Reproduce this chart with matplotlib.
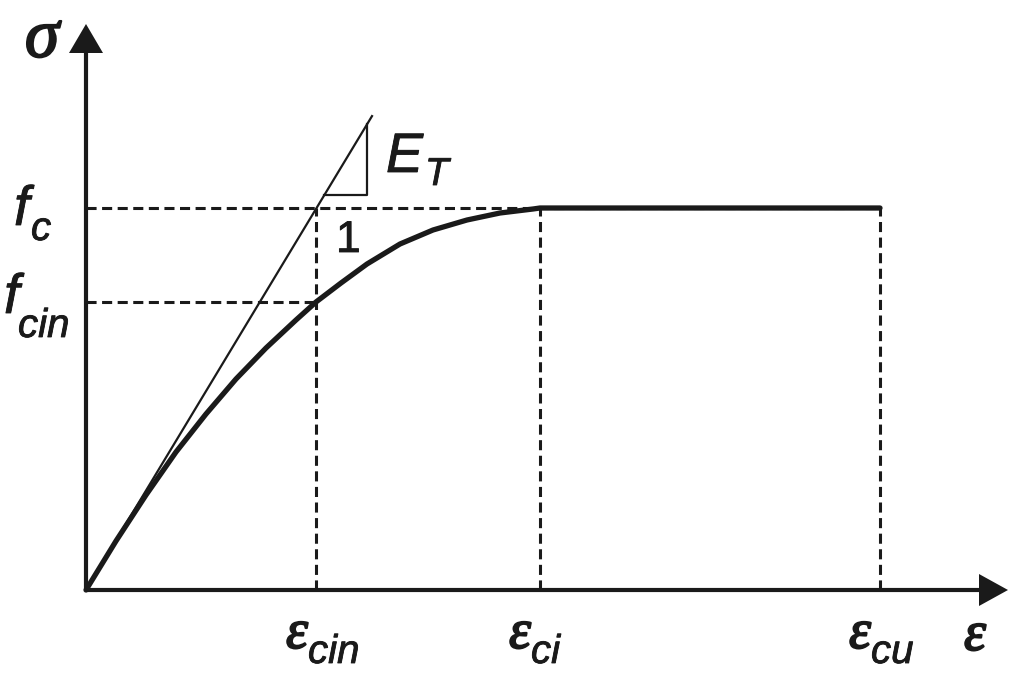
import numpy as np
import matplotlib.pyplot as plt
import matplotlib.patheffects as pe

# stress-strain curve (units are arbitrary, origin at 0)
eps = [0, 30, 60, 90, 120, 150, 180, 210, 230, 255, 281, 314, 347, 381, 414, 447, 454, 794]
sig = [0, 49, 95, 138, 176, 211, 242, 270, 288, 307, 326, 346, 360, 370, 377, 381, 382, 382]

eps_cin = 230
eps_ci = 454
eps_cu = 794
f_c = 382
f_cin = 288

# tangent (initial modulus E_T)
E_T = 1.657
tan_end = 286

ink = "#1a1a1a"
sans = "Liberation Sans"
serif = "Liberation Serif"
thin = [pe.withStroke(linewidth=0.6, foreground=ink)]
mid = [pe.withStroke(linewidth=1.4, foreground=ink)]

fig = plt.figure(figsize=(10.1, 6.79), dpi=100)
ax = fig.add_axes([0, 0, 1, 1])
ax.set_xlim(-86, 924)
ax.set_ylim(-89, 590)
ax.axis("off")

# axes with arrow heads
ax.plot([0, 0], [0, 538], color=ink, lw=3, solid_capstyle="butt")
ax.plot([0, 894], [0, 0], color=ink, lw=3, solid_capstyle="butt")
ax.fill([-17, 17, 0], [537, 537, 566], color=ink, lw=0)
ax.fill([893, 893, 922], [-16, 16, 0], color=ink, lw=0)

# dashed guide lines
dash = dict(color=ink, lw=2.2, linestyle=(0, (3.3, 1.8)))
ax.plot([0, eps_cu], [f_c, f_c], **dash)
ax.plot([0, eps_cin], [f_cin, f_cin], **dash)
ax.plot([eps_cin, eps_cin], [0, f_c], **dash)
ax.plot([eps_ci, eps_ci], [0, f_c], **dash)
ax.plot([eps_cu, eps_cu], [0, f_c], **dash)

# tangent line and slope triangle
ax.plot([0, tan_end], [0, E_T * tan_end], color=ink, lw=1.6)
tx0 = 395 / E_T
tx1 = 281
ax.plot([tx0, tx1, tx1], [395, 395, E_T * tx1], color=ink, lw=1.6)

# curve
ax.plot(eps, sig, color=ink, lw=3.8, solid_joinstyle="round", solid_capstyle="round")

# labels
def greek(x, y, s, size=40):
    ax.text(x, y, s, fontsize=size, family=serif, style="italic", color=ink,
            path_effects=mid)

def latin(x, y, s, size=40, italic=True):
    ax.text(x, y, s, fontsize=size, family=sans, style="italic" if italic else "normal",
            color=ink, path_effects=thin)

ax.text(-44, 550, "σ", fontsize=50, family=serif, style="italic", color=ink,
        ha="center", va="center", path_effects=mid)
latin(300, 418, "E", 40)
latin(339, 405, "T", 28)
latin(250, 338, "1", 32, italic=False)

latin(-72, 365, "f", 40)
latin(-55, 350, "c", 29)
latin(-82, 277, "f", 40)
latin(-68, 253, "cin", 29)

greek(200, -58, "ε")
latin(222, -73, "cin", 29)
greek(423, -58, "ε")
latin(445, -73, "ci", 29)
greek(763, -58, "ε")
latin(785, -73, "cu", 29)
greek(878, -60, "ε")

fig.savefig("out.png", dpi=100)
